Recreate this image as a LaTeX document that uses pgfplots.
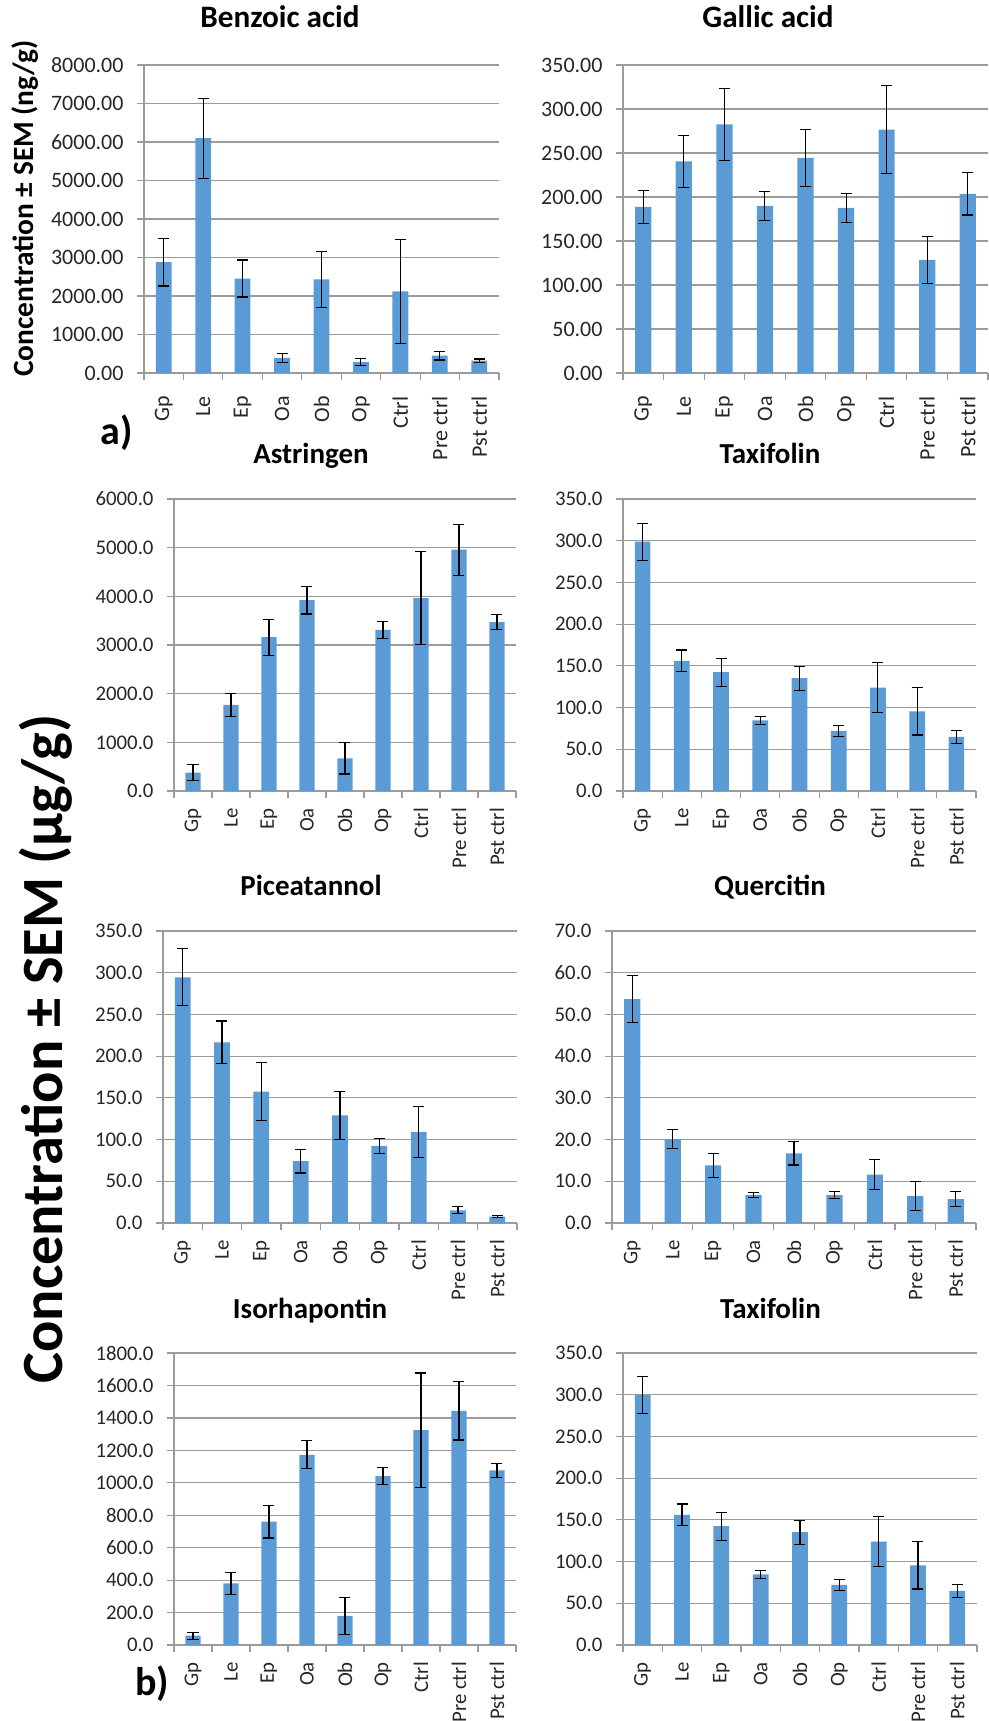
\documentclass[border=0pt]{standalone}
\usepackage{fontspec}
\setmainfont{Carlito}
\usepackage{pgfplots}
\pgfplotsset{compat=1.18}
\definecolor{barblue}{HTML}{5B9BD5}
\definecolor{gridc}{RGB}{155,155,155}
\definecolor{txt}{RGB}{38,38,38}
\pgfplotsset{
 panel/.style={
  scale only axis,
  anchor=south west,
  xmin=-0.5, xmax=8.5, ymin=0,
  xtick={0,...,8},
  xticklabels={Gp,Le,Ep,Oa,Ob,Op,Ctrl,Pre ctrl,Pst ctrl},
  minor xtick={-0.5,0.5,...,8.5},
  tick align=outside,
  major tick length=3.5pt, minor tick length=3.5pt,
  tick style={gridc, line width=0.6pt},
  major x tick style={draw=none},
  axis x line*=bottom, axis y line*=left,
  x axis line style={-, gridc, line width=0.6pt},
  y axis line style={-, gridc, line width=0.6pt},
  ymajorgrids, grid style={gridc, line width=0.6pt},
  xticklabel style={rotate=90, anchor=east, text=txt},
  yticklabel style={text=txt, xshift=-3.2pt},
  /pgf/number format/assume math mode=true,
  ybar, bar width=0.4, bar shift=0pt,
 },
 toppanel/.style={panel,
  ticklabel style={font=\fontsize{11}{13}\selectfont},
  xticklabel style={xshift=-4.6pt},
  yticklabel style={/pgf/number format/fixed, /pgf/number format/fixed zerofill, /pgf/number format/precision=2, /pgf/number format/1000 sep={}}},
 lowpanel/.style={panel,
  ticklabel style={font=\fontsize{10.4}{12.5}\selectfont},
  xticklabel style={xshift=-1.5pt},
  yticklabel style={/pgf/number format/fixed, /pgf/number format/fixed zerofill, /pgf/number format/precision=1, /pgf/number format/1000 sep={}}},
 barplot/.style={fill=barblue, draw=none,
  error bars/.cd, y dir=both, y explicit,
  error bar style={draw=black, line width=0.55pt},
  error mark options={rotate=90, mark size=2.75pt, draw=black, line width=0.55pt}},
}
\begin{document}
\begin{tikzpicture}
\useasboundingbox (0,0) rectangle (494.5pt,-860.5pt);

% ---------- Benzoic acid ----------
\begin{axis}[toppanel, at={(72pt,-186.5pt)}, width=177.5pt, height=154pt,
  ymax=8000, ytick={0,1000,...,8000}]
\addplot[barplot] coordinates {
 (0,2880) +- (0,620)
 (1,6100) +- (0,1040)
 (2,2455) +- (0,480)
 (3,390) +- (0,112)
 (4,2430) +- (0,735)
 (5,285) +- (0,100)
 (6,2120) +- (0,1350)
 (7,450) +- (0,112)
 (8,320) +- (0,43)
};
\end{axis}

% ---------- Gallic acid ----------
\begin{axis}[toppanel, at={(311.5pt,-186.5pt)}, width=182.5pt, height=154pt,
  ymax=350, ytick={0,50,...,350}]
\addplot[barplot] coordinates {
 (0,188.8) +- (0,18.4)
 (1,240.6) +- (0,29.5)
 (2,282.6) +- (0,40.9)
 (3,189.9) +- (0,16.7)
 (4,244.4) +- (0,32.0)
 (5,187.7) +- (0,16.7)
 (6,276.6) +- (0,50.3)
 (7,128.6) +- (0,26.7)
 (8,203.6) +- (0,24.0)
};
\end{axis}

% ---------- Astringen ----------
\begin{axis}[lowpanel, at={(87pt,-395.5pt)}, width=171pt, height=146pt,
  ymax=6000, ytick={0,1000,...,6000}]
\addplot[barplot] coordinates {
 (0,377) +- (0,162)
 (1,1769) +- (0,230)
 (2,3161) +- (0,370)
 (3,3922) +- (0,285)
 (4,672) +- (0,322)
 (5,3312) +- (0,175)
 (6,3963) +- (0,960)
 (7,4958) +- (0,525)
 (8,3470) +- (0,160)
};
\end{axis}

% ---------- Taxifolin ----------
\begin{axis}[lowpanel, at={(311.5pt,-395.5pt)}, width=176.5pt, height=146pt,
  ymax=350, ytick={0,50,...,350}]
\addplot[barplot] coordinates {
 (0,298.8) +- (0,22.0)
 (1,156.0) +- (0,13.0)
 (2,142.4) +- (0,16.6)
 (3,84.8) +- (0,5.0)
 (4,135.2) +- (0,14.2)
 (5,72.0) +- (0,6.6)
 (6,124.0) +- (0,29.6)
 (7,95.6) +- (0,28.4)
 (8,64.8) +- (0,7.4)
};
\end{axis}

% ---------- Piceatannol ----------
\begin{axis}[lowpanel, at={(81.5pt,-611.5pt)}, width=177pt, height=146pt,
  ymax=350, ytick={0,50,...,350}]
\addplot[barplot] coordinates {
 (0,294.5) +- (0,34.3)
 (1,216.4) +- (0,25.7)
 (2,157.4) +- (0,35.0)
 (3,74.1) +- (0,14.2)
 (4,129.1) +- (0,29.0)
 (5,92.5) +- (0,8.8)
 (6,109.2) +- (0,30.5)
 (7,15.1) +- (0,4.2)
 (8,7.6) +- (0,1.5)
};
\end{axis}

% ---------- Quercitin ----------
\begin{axis}[lowpanel, at={(306pt,-611.5pt)}, width=182pt, height=146pt,
  ymax=70, ytick={0,10,...,70}]
\addplot[barplot] coordinates {
 (0,53.7) +- (0,5.6)
 (1,20.1) +- (0,2.3)
 (2,13.8) +- (0,2.95)
 (3,6.7) +- (0,0.65)
 (4,16.7) +- (0,2.8)
 (5,6.7) +- (0,0.9)
 (6,11.6) +- (0,3.65)
 (7,6.5) +- (0,3.4)
 (8,5.7) +- (0,1.75)
};
\end{axis}

% ---------- Isorhapontin ----------
\begin{axis}[lowpanel, at={(87pt,-822.5pt)}, width=171pt, height=146pt,
  ymax=1800, ytick={0,200,...,1800}]
\addplot[barplot] coordinates {
 (0,57.6) +- (0,22)
 (1,380.6) +- (0,67)
 (2,761) +- (0,101)
 (3,1172.6) +- (0,86)
 (4,179) +- (0,114)
 (5,1041) +- (0,54)
 (6,1324.8) +- (0,352)
 (7,1444) +- (0,180)
 (8,1076) +- (0,43)
};
\end{axis}

% ---------- Taxifolin (b) ----------
\begin{axis}[lowpanel, at={(311.5pt,-822.5pt)}, width=177pt, height=146pt,
  ymax=350, ytick={0,50,...,350}]
\addplot[barplot] coordinates {
 (0,299.5) +- (0,22.0)
 (1,156.0) +- (0,13.0)
 (2,142.4) +- (0,16.6)
 (3,84.8) +- (0,5.0)
 (4,135.2) +- (0,14.2)
 (5,72.0) +- (0,6.6)
 (6,124.0) +- (0,29.6)
 (7,95.6) +- (0,28.4)
 (8,64.8) +- (0,7.4)
};
\end{axis}

% ---------- titles ----------
\begin{scope}[every node/.style={anchor=base, inner sep=0pt}]
\node[font=\bfseries\fontsize{15.6}{18}\selectfont] at (140pt,-13.5pt) {Benzoic acid};
\node[font=\bfseries\fontsize{15.6}{18}\selectfont] at (384pt,-13.5pt) {Gallic acid};
\node[font=\bfseries\fontsize{14.5}{17}\selectfont] at (155.5pt,-231.5pt) {Astringen};
\node[font=\bfseries\fontsize{14.5}{17}\selectfont] at (385pt,-231.5pt) {Taxifolin};
\node[font=\bfseries\fontsize{14.5}{17}\selectfont] at (155.5pt,-447.5pt) {Piceatannol};
\node[font=\bfseries\fontsize{14.5}{17}\selectfont] at (385pt,-447.5pt) {Quercitin};
\node[font=\bfseries\fontsize{14.5}{17}\selectfont] at (155pt,-659pt) {Isorhapontin};
\node[font=\bfseries\fontsize{14.5}{17}\selectfont] at (385.25pt,-659pt) {Taxifolin};
% y labels
\node[font=\bfseries\fontsize{14.7}{17}\selectfont, rotate=90] at (16.5pt,-104.25pt) {Concentration ± SEM (ng/g)};
\node[font=\bfseries\fontsize{29.2}{34}\selectfont, rotate=90] at (31pt,-524.5pt) {Concentration ± SEM (µg/g)};
\end{scope}
\node[font=\bfseries\fontsize{20}{24}\selectfont, anchor=base west, inner sep=0pt] at (50pt,-222pt) {a)};
\node[font=\bfseries\fontsize{20}{24}\selectfont, anchor=base west, inner sep=0pt] at (67.5pt,-847.5pt) {b)};
\end{tikzpicture}
\end{document}
